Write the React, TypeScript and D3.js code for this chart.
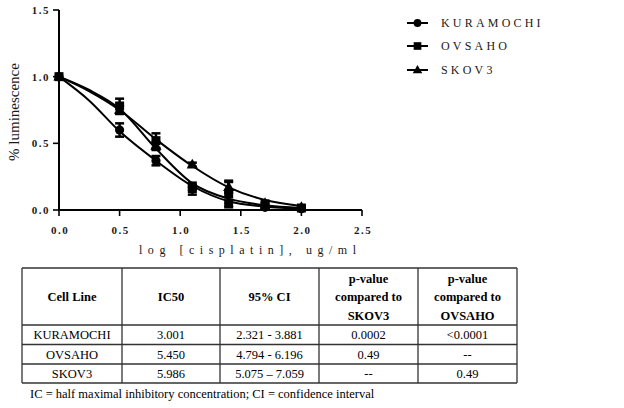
import React from "react";
import * as d3 from "d3";

const doses = [0, 0.5, 0.8, 1.1, 1.4, 1.7, 2.0];
const kuramochi = [1.0, 0.6, 0.37, 0.17, 0.05, 0.02, 0.01];
const kuramochiErr = [0, 0.05, 0.035, 0.02, 0.02, 0.01, 0.01];
const ovsaho = [1.0, 0.78, 0.52, 0.16, 0.12, 0.03, 0.015];
const ovsahoErr = [0, 0.055, 0.055, 0.045, 0.1, 0.02, 0.01];
const skov3 = [1.0, 0.75, 0.48, 0.34, 0.17, 0.05, 0.02];
const skov3Err = [0, 0.03, 0.03, 0.015, 0.04, 0.02, 0.01];

const fitDoses = [0, 0.25, 0.5, 0.8, 1.1, 1.4, 1.7, 2.0];
const kuramochiFit = [1.0, 0.82, 0.59, 0.37, 0.18, 0.065, 0.025, 0.01];
const ovsahoFit = [1.0, 0.9, 0.76, 0.46, 0.2, 0.085, 0.035, 0.015];
const skov3Fit = [1.0, 0.89, 0.75, 0.53, 0.33, 0.17, 0.075, 0.03];

const seriesNames = ["KURAMOCHI", "OVSAHO", "SKOV3"];
const markerTypes = ["circle", "square", "triangle"];

const xTicks = [0, 0.5, 1.0, 1.5, 2.0, 2.5];
const yTicks = [0, 0.5, 1.0, 1.5];

const tableHeaders = [["Cell Line"], ["IC50"], ["95% CI"], ["p-value", "compared to", "SKOV3"], ["p-value", "compared to", "OVSAHO"]];
const tableCellLines = ["KURAMOCHI", "OVSAHO", "SKOV3"];
const tableIC50 = ["3.001", "5.450", "5.986"];
const tableCI = ["2.321 - 3.881", "4.794 - 6.196", "5.075 \u2013 7.059"];
const tablePSkov3 = ["0.0002", "0.49", "--"];
const tablePOvsaho = ["<0.0001", "--", "0.49"];
const footnote = "IC = half maximal inhibitory concentration; CI = confidence interval";

const x = d3.scaleLinear().domain([0, 2.5]).range([59, 362]);
const y = d3.scaleLinear().domain([0, 1.5]).range([210, 10]);

const series = [
  { name: seriesNames[0], marker: markerTypes[0], vals: kuramochi, err: kuramochiErr, fit: kuramochiFit },
  { name: seriesNames[1], marker: markerTypes[1], vals: ovsaho, err: ovsahoErr, fit: ovsahoFit },
  { name: seriesNames[2], marker: markerTypes[2], vals: skov3, err: skov3Err, fit: skov3Fit },
];

function Marker({ type, cx, cy, s = 1 }: { type: string; cx: number; cy: number; s?: number }) {
  if (type === "circle") return <circle cx={cx} cy={cy} r={4.6 * s} fill="#000" />;
  if (type === "square") return <rect x={cx - 4.5 * s} y={cy - 4.5 * s} width={9 * s} height={9 * s} fill="#000" />;
  const sym = d3.symbol().type(d3.symbolTriangle).size(55 * s * s)();
  return <path d={sym || ""} transform={`translate(${cx},${cy + 0.5})`} fill="#000" />;
}

export default function App() {
  const line = d3
    .line<number>()
    .x((_, i) => x(fitDoses[i]))
    .y((d) => y(d))
    .curve(d3.curveMonotoneX);

  const colX = [22, 122, 220, 319, 418, 517];
  const rowY = [268, 325, 344.5, 364, 383];
  const tableCols = [tableCellLines, tableIC50, tableCI, tablePSkov3, tablePOvsaho];
  const serif = "'Liberation Serif', 'Times New Roman', serif";

  return (
    <div style={{ position: "absolute", left: 0, top: 0 }}>
      <svg width={624} height={408} style={{ display: "block", background: "#fff" }} fontFamily={serif}>
        {/* axes */}
        <line x1={59} x2={59} y1={y(1.5)} y2={y(0)} stroke="#000" strokeWidth={2} />
        <line x1={59} x2={x(2.5)} y1={210} y2={210} stroke="#000" strokeWidth={2} />
        {yTicks.map((t) => (
          <g key={"y" + t}>
            <line x1={53} x2={59} y1={y(t)} y2={y(t)} stroke="#000" strokeWidth={1.6} />
            <text x={50} y={y(t) + 4} textAnchor="end" fontSize={11} fontWeight="bold" letterSpacing={1.5} fill="#1a1a1a">
              {t.toFixed(1)}
            </text>
          </g>
        ))}
        {xTicks.map((t) => (
          <g key={"x" + t}>
            <line x1={x(t)} x2={x(t)} y1={210} y2={216} stroke="#000" strokeWidth={1.6} />
            <text x={x(t) + 1} y={234} textAnchor="middle" fontSize={11} fontWeight="bold" letterSpacing={1.5} fill="#1a1a1a">
              {t.toFixed(1)}
            </text>
          </g>
        ))}
        <text x={139} y={254} fontSize={12} textLength={217} lengthAdjust="spacing" fill="#1a1a1a">
          log [cisplatin], ug/ml
        </text>
        <text transform="translate(19,112) rotate(-90)" textAnchor="middle" fontSize={15} fill="#1a1a1a">
          % luminescence
        </text>

        {/* fitted curves */}
        {series.map((s) => (
          <path key={"f" + s.name} d={line(s.fit) || ""} fill="none" stroke="#000" strokeWidth={2} />
        ))}

        {/* error bars and markers */}
        {series.map((s) =>
          s.vals.map((v, i) => {
            const cx = x(doses[i]);
            const e = s.err[i];
            return (
              <g key={s.name + i}>
                {e > 0 && (
                  <>
                    <line x1={cx} x2={cx} y1={y(v + e)} y2={y(v - e)} stroke="#000" strokeWidth={2.5} />
                    <line x1={cx - 4.5} x2={cx + 4.5} y1={y(v + e)} y2={y(v + e)} stroke="#000" strokeWidth={2.5} />
                    <line x1={cx - 4.5} x2={cx + 4.5} y1={y(v - e)} y2={y(v - e)} stroke="#000" strokeWidth={2.5} />
                  </>
                )}
                <Marker type={s.marker} cx={cx} cy={y(v)} />
              </g>
            );
          })
        )}

        {/* legend */}
        {series.map((s, i) => {
          const ly = [23, 46, 70][i];
          return (
            <g key={"l" + s.name}>
              <line x1={407} x2={428} y1={ly} y2={ly} stroke="#000" strokeWidth={2} />
              <Marker type={s.marker} cx={417.5} cy={ly} s={0.85} />
              <text x={441} y={ly + 4} fontSize={12} letterSpacing={3.2} fill="#1a1a1a">
                {s.name}
              </text>
            </g>
          );
        })}

        {/* table */}
        <g stroke="#333" strokeWidth={1.3}>
          {rowY.map((ry) => (
            <line key={"r" + ry} x1={colX[0]} x2={colX[5]} y1={ry} y2={ry} />
          ))}
          {colX.map((cx) => (
            <line key={"c" + cx} x1={cx} x2={cx} y1={rowY[0]} y2={rowY[4]} />
          ))}
        </g>
        {tableHeaders.map((lines, ci) => {
          const cx = (colX[ci] + colX[ci + 1]) / 2;
          const center = (rowY[0] + rowY[1]) / 2;
          const lh = 18.5;
          const start = center - ((lines.length - 1) * lh) / 2;
          return lines.map((t, li) => (
            <text key={"h" + ci + li} x={cx} y={start + li * lh + 4.5} textAnchor="middle" fontSize={12.5} fontWeight="bold" fill="#000">
              {t}
            </text>
          ));
        })}
        {tableCols.map((col, ci) =>
          col.map((t, ri) => (
            <text
              key={"b" + ci + ri}
              x={(colX[ci] + colX[ci + 1]) / 2}
              y={(rowY[ri + 1] + rowY[ri + 2]) / 2 + 4.5}
              textAnchor="middle"
              fontSize={12.5}
              fill="#000"
            >
              {t}
            </text>
          ))
        )}
        <text x={30} y={397.5} fontSize={12.5} fill="#000">
          {footnote}
        </text>
      </svg>
    </div>
  );
}
